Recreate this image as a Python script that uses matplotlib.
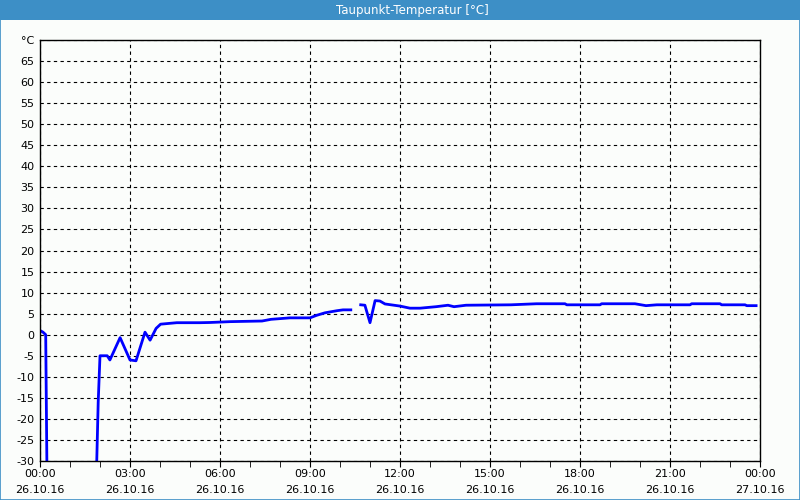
import numpy as np
import matplotlib.pyplot as plt
from matplotlib.ticker import MultipleLocator

# dew point readings, hours since 26.10.16 00:00 -> degC (nan = gap)
hours = [0.0, 0.1, 0.19, 0.23, 0.3, 1.85, 1.89, 1.94, 2.0, 2.24, 2.33, 2.67, 3.0, 3.2,
         3.5, 3.67, 3.87, 4.02, 4.56, 5.33, 5.67, 6.33, 7.4, 7.7, 8.33, 9.0, 9.22, 9.5,
         9.9, 10.1, 10.36, 10.5, 10.69, 10.83, 11.0, 11.17, 11.33, 11.5, 12.0, 12.33,
         12.67, 13.2, 13.6, 13.8, 14.2, 15.7, 16.55, 17.5, 17.56, 18.67, 18.72, 19.83,
         20.2, 20.56, 21.67, 21.72, 22.67, 22.72, 23.5, 23.56, 23.87]
dewpoint = [1.0, 0.6, 0.0, -31, -40, -40, -30.5, -16.0, -5.0, -5.0, -6.0, -0.7, -6.0, -6.2,
            0.6, -1.3, 1.5, 2.5, 2.85, 2.85, 2.9, 3.1, 3.25, 3.65, 4.0, 4.0, 4.6, 5.2,
            5.7, 5.9, 5.9, np.nan, 7.1, 7.0, 2.85, 8.1, 8.0, 7.3, 6.8, 6.3,
            6.3, 6.65, 7.0, 6.65, 7.0, 7.1, 7.35, 7.35, 7.1, 7.1, 7.35, 7.35,
            6.9, 7.1, 7.1, 7.35, 7.35, 7.1, 7.1, 6.9, 6.9]

x_ticks = [0, 3, 6, 9, 12, 15, 18, 21, 24]
x_labels = ["00:00\n26.10.16", "03:00\n26.10.16", "06:00\n26.10.16", "09:00\n26.10.16",
            "12:00\n26.10.16", "15:00\n26.10.16", "18:00\n26.10.16", "21:00\n26.10.16",
            "00:00\n27.10.16"]
y_ticks = list(range(-30, 75, 5))
y_labels = [str(v) for v in y_ticks[:-1]] + ["°C"]

bar_blue = "#3d8fc6"
bg = "#fbfdfb"

fig = plt.figure(figsize=(8, 5), dpi=100, facecolor=bg)

# title bar and thin frame
fig.patches.append(plt.Rectangle((0, 0.96), 1, 0.04, transform=fig.transFigure,
                                 facecolor=bar_blue, edgecolor="none"))
fig.patches.append(plt.Rectangle((0.0006, 0.001), 0.9988, 0.998, transform=fig.transFigure,
                                 facecolor="none", edgecolor=bar_blue, linewidth=1.2))
fig.text(0.515, 0.979, "Taupunkt-Temperatur [°C]", color="white", ha="center", va="center",
         fontsize=8.5)

ax = fig.add_axes([0.05, 0.078, 0.9, 0.842])
ax.set_facecolor(bg)
ax.plot(hours, dewpoint, color="#0000ff", linewidth=2)

ax.set_xlim(0, 24)
ax.set_ylim(-30, 70)
ax.set_xticks(x_ticks)
ax.set_xticklabels(x_labels, fontsize=8, linespacing=1.75)
ax.xaxis.set_minor_locator(MultipleLocator(1))
ax.set_yticks(y_ticks)
ax.set_yticklabels(y_labels, fontsize=8)
ax.tick_params(axis="x", which="major", length=4, pad=2)
ax.tick_params(axis="x", which="minor", length=4)
ax.tick_params(axis="y", length=0, pad=4)
ax.grid(True, color="black", linestyle=(0, (3, 3)), linewidth=0.8)
for s in ax.spines.values():
    s.set_color("black")
    s.set_linewidth(1)

plt.savefig("out.png", dpi=100, facecolor=bg)
